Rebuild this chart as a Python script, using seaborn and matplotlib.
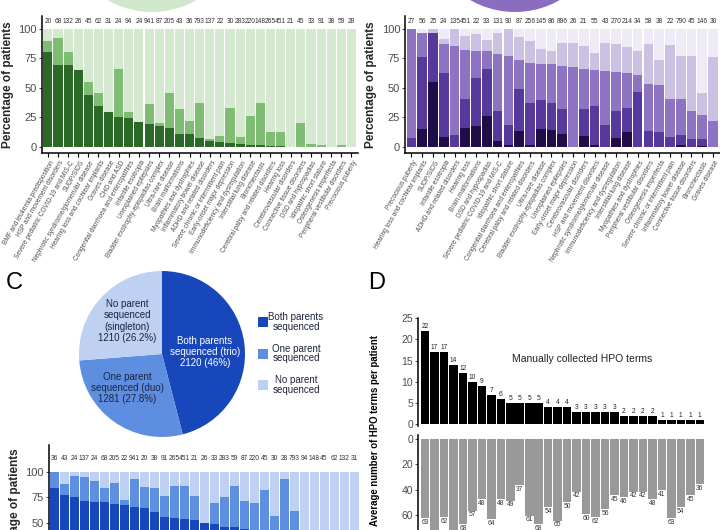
import numpy as np
import pandas as pd
import matplotlib
matplotlib.use('Agg')
import matplotlib.pyplot as plt
import matplotlib.transforms as mtrans
import seaborn as sns
from matplotlib.patches import Ellipse, Rectangle

sns.set_theme(style='ticks')
plt.rcParams['font.family'] = ['Liberation Sans', 'DejaVu Sans']

# ---------------- data ----------------
green_cats = ["BMF and leukemia predisposition", "HSP and movement disorders",
              "Severe pediatric COVID-19 and MIS-C", "SUDP/SIDS",
              "Nephrotic syndrome/glomerular disease", "Hearing loss and cochlear implants",
              "Graves disease", "CHD and ASD", "Congenital diarrhoea and enteropathies",
              "Infantile esotropia", "Unexplained epilepsies",
              "Bladder exstrophy-epispadias complex", "Ultra-rare disease",
              "Brain malformations", "Myopathies and dystrophies",
              "Inflammatory bowel disease", "ADHD and related disorders",
              "Severe chronic or intermittent pain", "Early-onset major depression",
              "Immunodeficiency and dysregulation", "Interstitial lung disease",
              "Bronchiectasis", "Cerebral palsy and related disorders", "Hearing loss",
              "Cerebrovascular disorders", "Connective tissue disorders",
              "DSD and hypospadias", "Idiopathic short stature",
              "Osteogenesis imperfecta", "Peripheral vestibular disorders",
              "Precocious puberty"]
green_n = [20, 68, 132, 26, 45, 62, 31, 24, 94, 24, 941, 87, 205, 43, 36, 793, 137, 22,
           30, 283, 220, 148, 265, 451, 21, 45, 33, 91, 38, 59, 28]
green_dark = [80, 69, 69, 65, 44, 34, 29, 25, 24, 21, 19, 17, 16, 11, 11, 7, 5, 4, 3, 2,
              1, 1, 0.5, 0.5, 0, 0, 0, 0, 0, 0, 0]
green_mid = [89, 92, 80, 65, 55, 45, 29, 66, 29, 21, 36, 20, 45, 32, 22, 37, 6, 9, 33, 8,
             26, 37, 12, 12, 0, 20, 2, 1.5, 0, 1.5, 0]
green_total = [100] * 31

purple_cats = ["Precocious puberty", "Hearing loss and cochlear implants", "SUDP/SIDS",
               "Infantile esotropia", "ADHD and related disorders", "Hearing loss",
               "Brain malformations", "DSD and hypospadias",
               "Severe pediatric COVID-19 and MIS-C", "Idiopathic short stature",
               "Congenital diarrhoea and enteropathies",
               "Cerebral palsy and related disorders", "Ultra-rare disease",
               "Bladder exstrophy-epispadias complex", "Unexplained epilepsies",
               "Early-onset major depression", "Cerebrovascular disorders",
               "HSP and movement disorders", "Nephrotic syndrome/glomerular disease",
               "Immunodeficiency and dysregulation", "Interstitial lung disease",
               "Myopathies and dystrophies", "Peripheral vestibular disorders",
               "Osteogenesis imperfecta", "Severe chronic or intermittent pain",
               "Inflammatory bowel disease", "Connective tissue disorders",
               "Bronchiectasis", "Graves disease"]
purple_n = [27, 56, 25, 24, 135, 451, 22, 33, 131, 90, 87, 256, 145, 86, 896, 26, 21, 55,
            43, 270, 214, 34, 58, 38, 22, 790, 45, 146, 30]
purple_l1 = [0, 15, 55, 8, 0, 16, 17, 26, 5, 1.5, 13, 1, 15, 14, 11, 0, 9, 1, 0, 7, 12,
             0, 0, 0, 0, 1, 0, 0.5, 0]
purple_l2 = [7, 76, 96, 62, 10, 40, 58, 66, 30, 18, 49, 37, 39, 37, 32, 0, 32, 34, 18,
             30, 33, 46, 13, 12, 8, 10, 6, 6, 0]
purple_l3 = [100, 96, 96, 87, 85, 82, 81, 81, 78, 77, 73, 71, 70, 70, 68, 67, 66, 65, 64,
             63, 62, 61, 53, 52, 40, 40, 30, 27, 22]
purple_l4 = [100, 96, 100, 91, 100, 94, 95, 90, 96, 100, 93, 89, 83, 81, 88, 88, 85, 79,
             88, 87, 84, 81, 87, 73, 86, 77, 77, 45, 76]
purple_total = [100] * 29

pie_labels = ["Both parents\nsequenced (trio)\n2120 (46%)",
              "One parent\nsequenced (duo)\n1281 (27.8%)",
              "No parent\nsequenced\n(singleton)\n1210 (26.2%)"]
pie_values = [2120, 1281, 1210]
legend_labels = ["Both parents\nsequenced", "One parent\nsequenced", "No parent\nsequenced"]

blue_n = [36, 43, 24, 137, 24, 68, 205, 22, 941, 20, 38, 91, 265, 451, 21, 26, 33, 283,
          59, 87, 220, 45, 30, 28, 793, 94, 148, 45, 62, 132, 31]
blue_cats = ["c%02d" % i for i in range(31)]
blue_dark = [84, 77, 75, 72, 71, 71, 69, 68, 66, 65, 61, 56, 55, 54, 53, 50, 49, 46, 46,
             44, 38, 35, 30, 25, 20, 15, 10, 8, 5, 3, 0]
blue_mid = [100, 88, 96, 95, 91, 84, 89, 73, 93, 85, 84, 76, 86, 86, 76, 50, 70, 75, 86,
            72, 70, 82, 57, 93, 62, 35, 30, 25, 20, 10, 5]
blue_total = [100] * 31

d_manual = [22, 17, 17, 14, 12, 10, 9, 7, 6, 5, 5, 5, 5, 4, 4, 4, 3, 3, 3, 3, 3, 2, 2, 2,
            2, 1, 1, 1, 1, 1]
d_auto = [63, 78, 62, 75, 68, 57, 48, 64, 48, 49, 37, 61, 68, 54, 65, 50, 42, 60, 62, 56,
          45, 46, 42, 42, 48, 41, 63, 54, 45, 36]
d_cats = ["d%02d" % i for i in range(30)]

# ---------------- styles ----------------
G_COL = ['#d4e9cf', '#80bd74', '#2b6a26']
P_COL = ['#efebf6', '#cbc1e2', '#8d73c2', '#56399a', '#1f0d47']
B_COL = ['#bed1f3', '#5d8ee0', '#1847bb']
TICK_C = '#4d4d4d'

W, H = 720, 530
fig = plt.figure(figsize=(7.2, 5.3), dpi=100)


def ax_px(l, t, r, b):
    return fig.add_axes([l / W, 1 - b / H, (r - l) / W, (b - t) / H])


def stacked(ax, cats, layers, colors, width=0.9):
    for vals, col in zip(layers, colors):
        sns.barplot(x=cats, y=vals, order=cats, color=col, saturation=1,
                    width=width, errorbar=None, ax=ax, linewidth=0)


def style_pct_axis(ax, n, ylim):
    ax.set_xlim(-0.6, n - 0.4)
    ax.set_ylim(*ylim)
    ax.set_yticks([0, 25, 50, 75, 100])
    ax.set_yticklabels(['0', '25', '50', '75', '100'])
    ax.tick_params(axis='y', labelsize=8, colors=TICK_C, length=2.5, width=0.8, pad=1)
    ax.tick_params(axis='x', length=3, width=0.8, color='black', pad=1.5)
    for s in ['top', 'right']:
        ax.spines[s].set_visible(False)
    for s in ['left', 'bottom']:
        ax.spines[s].set_linewidth(1.1)
        ax.spines[s].set_color('black')
    ax.set_xlabel('')
    ax.set_ylabel('')
    ax.set_facecolor('white')


def rotated_labels(ax, cats):
    ax.set_xticks(range(len(cats)))
    ax.set_xticklabels(cats, rotation=60, ha='right', va='center',
                       rotation_mode='anchor', fontsize=4.7, color=TICK_C)
    off = mtrans.ScaledTranslation(4.5 / 100, -2.5 / 100, fig.dpi_scale_trans)
    for lab in ax.get_xticklabels():
        lab.set_transform(lab.get_transform() + off)


# decorative cut pies from panels above
fig.add_artist(Ellipse((152 / W, 1 + 78 / H), 180 / W, 180 / H, transform=fig.transFigure,
                       facecolor='#d1e7cb', edgecolor='none'))
fig.add_artist(Ellipse((515 / W, 1 + 78 / H), 180 / W, 180 / H, transform=fig.transFigure,
                       facecolor='#8b6dbf', edgecolor='none'))

# ---------------- green panel ----------------
axg = ax_px(41.8, 16, 357.5, 152.5)
stacked(axg, green_cats, [green_total, green_mid, green_dark], G_COL)
style_pct_axis(axg, 31, (-5.08, 110.6))
rotated_labels(axg, green_cats)
for i, n in enumerate(green_n):
    axg.text(i, 105.6, str(n), ha='center', va='center', fontsize=4.8, color='#333333')
axg.set_ylabel('Percentage of patients', fontsize=8.5, fontweight='bold', labelpad=3)

# ---------------- purple panel ----------------
axp = ax_px(405, 16, 719.5, 152.5)
stacked(axp, purple_cats, [purple_total, purple_l4, purple_l3, purple_l2, purple_l1], P_COL)
style_pct_axis(axp, 29, (-5.08, 110.6))
rotated_labels(axp, purple_cats)
for i, n in enumerate(purple_n):
    axp.text(i, 105.6, str(n), ha='center', va='center', fontsize=4.8, color='#333333')
axp.set_ylabel('Percentage of patients', fontsize=8.5, fontweight='bold', labelpad=3)

# ---------------- panel C pie ----------------
axc = ax_px(79, 271, 245, 437)
axc.pie(pie_values, colors=[B_COL[2], B_COL[1], B_COL[0]], startangle=90,
        counterclock=False, radius=1, wedgeprops=dict(linewidth=0))
axc.set_xlim(-1, 1)
axc.set_ylim(-1, 1)
axc.set_aspect('equal')
axc.axis('off')


def px_text(x, y, s, **kw):
    fig.text(x / W, 1 - y / H, s, **kw)


px_text(205, 352, pie_labels[0], ha='center', va='center', fontsize=7, color='white',
        linespacing=1.15)
px_text(127, 388, pie_labels[1], ha='center', va='center', fontsize=7, color='#1c2340',
        linespacing=1.15)
px_text(127, 321, pie_labels[2], ha='center', va='center', fontsize=7, color='#1c2340',
        linespacing=1.15)

for k, (lab, col) in enumerate(zip(legend_labels, [B_COL[2], B_COL[1], B_COL[0]])):
    yc = 322 + k * 31.5
    fig.add_artist(Rectangle((258 / W, 1 - (yc + 5) / H), 9.5 / W, 10 / H,
                             transform=fig.transFigure, facecolor=col, edgecolor='none'))
    px_text(296, yc, lab, ha='center', va='center', fontsize=7, color='#1c2340',
            linespacing=0.95)

px_text(14, 283, 'C', ha='center', va='center', fontsize=17, color='black')
px_text(377, 283, 'D', ha='center', va='center', fontsize=17, color='black')

# ---------------- panel C bars ----------------
axb = ax_px(48.5, 445, 360, 579)
stacked(axb, blue_cats, [blue_total, blue_mid, blue_dark], B_COL)
style_pct_axis(axb, 31, (-5, 126.5))
axb.set_xticks([])
for i, n in enumerate(blue_n):
    axb.text(i, 113, str(n), ha='center', va='center', fontsize=4.8, color='#333333')
axb.set_ylabel('Percentage of patients', fontsize=8.5, fontweight='bold', labelpad=3)

# ---------------- panel D ----------------
axd1 = ax_px(418, 318.3, 706.8, 426.4)
sns.barplot(x=d_cats, y=d_manual, order=d_cats, color='black', saturation=1, width=0.9,
            errorbar=None, ax=axd1, linewidth=0)
axd1.set_xlim(-0.74, 29.74)
axd1.set_ylim(-0.5, 25)
axd1.set_yticks([0, 5, 10, 15, 20, 25])
axd1.tick_params(axis='y', labelsize=7.5, colors=TICK_C, length=2.5, width=0.8, pad=1)
axd1.set_xticks([])
for s in ['top', 'right', 'bottom']:
    axd1.spines[s].set_visible(False)
axd1.spines['left'].set_color('black')
axd1.spines['left'].set_linewidth(1.1)
axd1.set_xlabel('')
axd1.set_ylabel('')
for i, v in enumerate(d_manual):
    axd1.text(i, v + 0.25, str(v), ha='center', va='bottom', fontsize=4.8, color='#222222')
axd1.text(0.57, 0.62, 'Manually collected HPO terms', transform=axd1.transAxes,
          ha='center', va='center', fontsize=7.5, color='#222222')

axd2 = ax_px(418, 435, 706.8, 552.7)
sns.barplot(x=d_cats, y=d_auto, order=d_cats, color='#999999', saturation=1, width=0.9,
            errorbar=None, ax=axd2, linewidth=0)
axd2.set_xlim(-0.74, 29.74)
axd2.set_ylim(90, -3.4)
axd2.set_yticks([0, 20, 40, 60, 80])
axd2.tick_params(axis='y', labelsize=7.5, colors=TICK_C, length=2.5, width=0.8, pad=1)
axd2.set_xticks([])
for s in ['top', 'right', 'bottom']:
    axd2.spines[s].set_visible(False)
axd2.spines['left'].set_color('black')
axd2.spines['left'].set_linewidth(1.1)
axd2.set_xlabel('')
axd2.set_ylabel('')
for i, v in enumerate(d_auto):
    axd2.text(i, v + 3, str(v), ha='center', va='center', fontsize=4.8, color='#333333',
              bbox=dict(boxstyle='square,pad=0.12', fc='white', ec='none'))

px_text(375, 431, 'Average number of HPO terms per patient', rotation=90, ha='center',
        va='center', fontsize=6.9, fontweight='bold', color='black')

fig.savefig('out.png', dpi=100)
